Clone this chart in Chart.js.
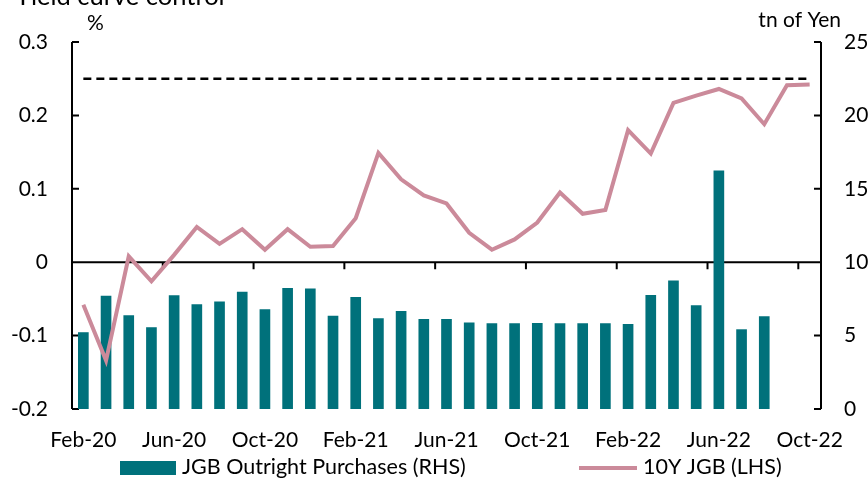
<html>
<head>
<meta charset="utf-8"/>
<title>Yield curve control</title>
<style>
  body { margin: 0; background: #fff; }
  canvas { display: block; }
</style>
</head>
<body>
<canvas id="ycc" width="868" height="478"></canvas>

<script src="https://cdn.jsdelivr.net/npm/chart.js@4.4.0/dist/chart.umd.min.js"></script>
<script>

// months, Feb-20 .. Oct-22
const months = ["Feb-20","Mar-20","Apr-20","May-20","Jun-20","Jul-20","Aug-20","Sep-20","Oct-20","Nov-20","Dec-20",
    "Jan-21","Feb-21","Mar-21","Apr-21","May-21","Jun-21","Jul-21","Aug-21","Sep-21","Oct-21","Nov-21","Dec-21",
    "Jan-22","Feb-22","Mar-22","Apr-22","May-22","Jun-22","Jul-22","Aug-22","Sep-22","Oct-22"];

// JGB outright purchases, tn of Yen (RHS)
const purchases = [5.23, 7.72, 6.39, 5.57, 7.75, 7.14, 7.32, 7.98, 6.8, 8.25, 8.2,
    6.36, 7.63, 6.18, 6.68, 6.13, 6.13, 5.89, 5.84, 5.84, 5.86, 5.84, 5.84,
    5.84, 5.79, 7.77, 8.75, 7.07, 16.25, 5.43, 6.32, null, null];

// 10Y JGB yield, % (LHS)
const jgb10y = [-0.058, -0.134, 0.008, -0.026, 0.01, 0.048, 0.025, 0.045, 0.017, 0.045, 0.021,
    0.022, 0.060, 0.149, 0.113, 0.091, 0.080, 0.040, 0.017, 0.031, 0.054, 0.095, 0.066,
    0.071, 0.180, 0.148, 0.217, 0.227, 0.236, 0.223, 0.188, 0.241, 0.242];

// YCC upper band 0.25%
const yccCap = [0.25, 0.25, 0.25, 0.25, 0.25, 0.25, 0.25, 0.25, 0.25, 0.25, 0.25,
    0.25, 0.25, 0.25, 0.25, 0.25, 0.25, 0.25, 0.25, 0.25, 0.25, 0.25, 0.25,
    0.25, 0.25, 0.25, 0.25, 0.25, 0.25, 0.25, 0.25, 0.25, 0.25];

const leftTicks = [-0.2, -0.1, 0, 0.1, 0.2, 0.3];
const rightTicks = [0, 5, 10, 15, 20, 25];

const TEAL = "#00717b";
const PINK = "#cb8a9a";
const FONT = "Lato";

// axis lines, inside ticks, unit labels, legend, cut-off title
var decor = {
    id: "decor",
    beforeDatasetsDraw: function(chart) {
        var ctx = chart.ctx;
        var a = chart.chartArea;
        var x = chart.scales.x, y = chart.scales.y, y1 = chart.scales.y1;
        ctx.save();
        ctx.strokeStyle = "#000";
        ctx.lineWidth = 2;
        ctx.beginPath();
        // left axis
        ctx.moveTo(a.left, a.top); ctx.lineTo(a.left, a.bottom);
        for (var i = 0; i < leftTicks.length; ++i) {
            var py = y.getPixelForValue(leftTicks[i]);
            ctx.moveTo(a.left, py); ctx.lineTo(a.left + 7, py);
        }
        // right axis
        ctx.moveTo(a.right, a.top); ctx.lineTo(a.right, a.bottom);
        for (var i = 0; i < rightTicks.length; ++i) {
            var py = y1.getPixelForValue(rightTicks[i]);
            ctx.moveTo(a.right, py); ctx.lineTo(a.right - 7, py);
        }
        // zero line with month ticks
        var y0 = y.getPixelForValue(0);
        ctx.moveTo(a.left, y0); ctx.lineTo(a.right, y0);
        var half = (x.getPixelForValue(1) - x.getPixelForValue(0)) / 2;
        for (var k = 4; k < months.length; k += 4) {
            var px = x.getPixelForValue(k) - half;
            ctx.moveTo(px, y0); ctx.lineTo(px, y0 + 7);
        }
        ctx.stroke();
        ctx.restore();
    },
    afterDraw: function(chart) {
        var ctx = chart.ctx;
        ctx.save();
        ctx.fillStyle = "#000";
        ctx.textBaseline = "middle";
        ctx.font = "21px " + FONT;
        ctx.textAlign = "left";
        ctx.fillText("%", 87, 23);
        ctx.textAlign = "right";
        ctx.fillText("tn of Yen", 841, 20);

        // title, mostly above the frame
        ctx.textAlign = "left";
        ctx.textBaseline = "alphabetic";
        ctx.font = "25.5px " + FONT;
        ctx.fillText("Yield curve control", 15, 5);

        // legend
        ctx.textBaseline = "middle";
        ctx.font = "21.5px " + FONT;
        ctx.fillStyle = TEAL;
        ctx.fillRect(120, 461, 56, 14);
        ctx.fillStyle = "#000";
        ctx.fillText("JGB Outright Purchases (RHS)", 182, 467);
        ctx.strokeStyle = PINK;
        ctx.lineWidth = 4;
        ctx.beginPath();
        ctx.moveTo(579, 468); ctx.lineTo(637, 468);
        ctx.stroke();
        ctx.fillText("10Y JGB (LHS)", 643, 467);
        ctx.restore();
    }
};

var ctx = document.getElementById("ycc").getContext("2d");
var chart = new Chart(ctx, {
    type: "bar",
    data: {
        labels: months,
        datasets: [
            {
                type: "line",
                label: "10Y JGB (LHS)",
                data: jgb10y,
                yAxisID: "y",
                borderColor: PINK,
                backgroundColor: PINK,
                borderWidth: 4,
                pointRadius: 0,
                tension: 0,
                order: 0
            },
            {
                type: "line",
                label: "YCC cap",
                data: yccCap,
                yAxisID: "y",
                borderColor: "#000",
                borderWidth: 2.5,
                borderDash: [8, 5],
                pointRadius: 0,
                order: 1
            },
            {
                type: "bar",
                label: "JGB Outright Purchases (RHS)",
                data: purchases,
                yAxisID: "y1",
                backgroundColor: TEAL,
                categoryPercentage: 1,
                barPercentage: 0.47,
                order: 2
            }
        ]
    },
    options: {
        responsive: false,
        animation: false,
        layout: { padding: { top: 42, left: 0, right: 0, bottom: 0 } },
        plugins: {
            legend: { display: false },
            tooltip: { enabled: false }
        },
        scales: {
            x: {
                offset: true,
                grid: { display: false, drawTicks: false },
                border: { display: false },
                ticks: {
                    autoSkip: false,
                    maxRotation: 0,
                    padding: 19,
                    color: "#000",
                    font: { family: FONT, size: 21 },
                    callback: function(v, i) { return i % 4 === 0 ? months[i] : ""; }
                },
                afterFit: function(s) { s.height = 69; }
            },
            y: {
                position: "left",
                min: -0.2,
                max: 0.3,
                grid: { display: false, drawTicks: false },
                border: { display: false },
                ticks: {
                    stepSize: 0.1,
                    padding: 24,
                    color: "#000",
                    font: { family: FONT, size: 21 },
                    callback: function(v) { return Math.abs(v) < 1e-9 ? "0" : v.toFixed(1); }
                },
                afterFit: function(s) { s.width = 72; }
            },
            y1: {
                position: "right",
                min: 0,
                max: 25,
                grid: { display: false, drawTicks: false },
                border: { display: false },
                ticks: {
                    stepSize: 5,
                    padding: 23,
                    color: "#000",
                    font: { family: FONT, size: 21 }
                },
                afterFit: function(s) { s.width = 47; }
            }
        }
    },
    plugins: [decor]
});

</script>
</body>
</html>
